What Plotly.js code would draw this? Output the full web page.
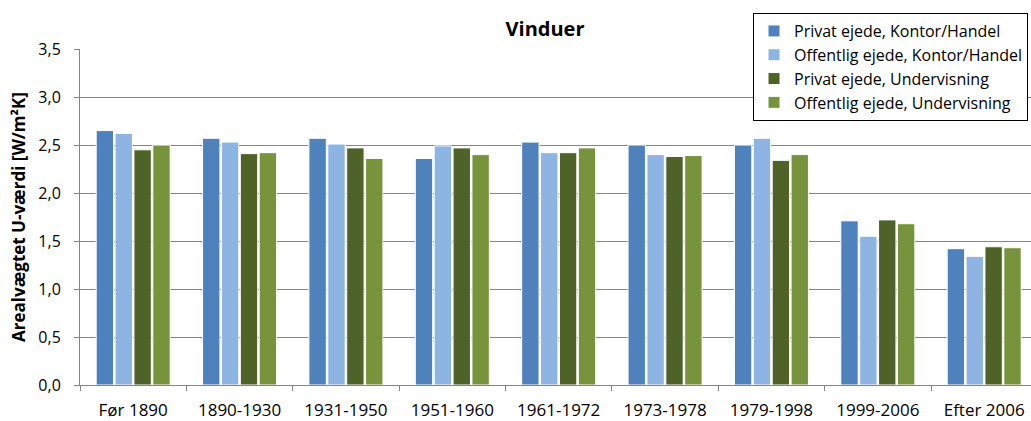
<!DOCTYPE html>
<html><head><meta charset="utf-8">
<script src="https://cdn.plot.ly/plotly-3.0.1.min.js"></script>
<style>html,body{margin:0;padding:0;background:#fff}</style>
</head><body>
<div id="chart" style="width:1031px;height:421px"></div>
<script>
const categories = ["Før 1890","1890-1930","1931-1950","1951-1960","1961-1972","1973-1978","1979-1998","1999-2006","Efter 2006"];
const seriesNames = ["Privat ejede, Kontor/Handel","Offentlig ejede, Kontor/Handel","Privat ejede, Undervisning","Offentlig ejede, Undervisning"];
const privatKontor    = [2.65, 2.57, 2.57, 2.36, 2.53, 2.50, 2.50, 1.71, 1.42];
const offentligKontor = [2.62, 2.53, 2.51, 2.49, 2.42, 2.40, 2.57, 1.55, 1.34];
const privatUnderv    = [2.45, 2.41, 2.47, 2.47, 2.42, 2.38, 2.34, 1.72, 1.44];
const offentligUnderv = [2.50, 2.42, 2.36, 2.40, 2.47, 2.39, 2.40, 1.68, 1.43];
const colors = ["#4f81bd","#8eb4e3","#4f6228","#77933c"];
const values = [privatKontor, offentligKontor, privatUnderv, offentligUnderv];

const font = "Open Sans, Noto Sans, sans-serif";
const traces = values.map((v,i)=>({
  type:"bar", x:categories, y:v, name:seriesNames[i],
  marker:{color:colors[i], line:{color:"#ffffff", width:1}},
  hoverinfo:"skip"
}));

const layout = {
  width:1031, height:421,
  margin:{l:80, r:0, t:49, b:36},
  paper_bgcolor:"#fff", plot_bgcolor:"#fff",
  separators:",.",
  barmode:"group", bargap:0.29, bargroupgap:0.08,
  font:{family:font, size:16, color:"#000"},
  title:{text:"<b>Vinduer</b>", font:{family:font, size:20, color:"#000"}, x:0.489, xref:"paper", xanchor:"center", y:0.931, yref:"container", yanchor:"middle"},
  xaxis:{
    type:"category", range:[-0.5, 8.44], tickson:"boundaries",
    ticks:"outside", ticklen:5, tickcolor:"#868686",
    showline:true, linecolor:"#868686", linewidth:1,
    showgrid:false, tickfont:{family:font, size:17, color:"#000"},
    ticklabelstandoff:10
  },
  yaxis:{
    range:[0,3.5], dtick:0.5, tickformat:".1f",
    ticks:"outside", ticklen:5, tickcolor:"#868686",
    showline:true, linecolor:"#868686", linewidth:1,
    showgrid:true, gridcolor:"#868686", gridwidth:1, zeroline:false,
    tickfont:{family:font, size:16, color:"#000"},
    ticklabelstandoff:10,
    title:{text:"<b>Arealvægtet U-værdi [W/m²K]</b>", font:{family:font, size:17, color:"#000"}, standoff:8}
  },
  legend:{
    x:0.7077, xanchor:"left", y:1.107, yanchor:"top",
    bgcolor:"#fff", bordercolor:"#000", borderwidth:1,
    font:{family:font, size:16, color:"#000"},
    tracegroupgap:0, itemwidth:30
  },
  showlegend:true
};
Plotly.newPlot("chart", traces, layout, {staticPlot:true});
</script>
</body></html>
